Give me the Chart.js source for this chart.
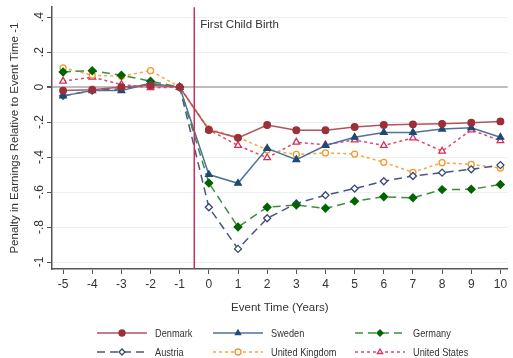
<!DOCTYPE html>
<html>
<head>
<meta charset="utf-8">
<script src="https://cdn.jsdelivr.net/npm/chart.js@4"></script>
<style>
  html, body { margin: 0; padding: 0; background: #fff; }
  #wrap { width: 513px; height: 358px; }
</style>
</head>
<body>
<div id="wrap"><canvas id="penaltyChart"></canvas></div>
<script>
// event time (years relative to first child birth)
const eventTime = [-5, -4, -3, -2, -1, 0, 1, 2, 3, 4, 5, 6, 7, 8, 9, 10];

// earnings penalty relative to event time -1, per country
const denmark = [-0.02, -0.015, 0.0, 0.01, 0, -0.245, -0.29, -0.217, -0.247, -0.247, -0.228, -0.217, -0.213, -0.21, -0.204, -0.196];
const sweden  = [-0.05, -0.02, -0.02, 0.02, 0, -0.50, -0.55, -0.35, -0.415, -0.334, -0.287, -0.259, -0.259, -0.24, -0.232, -0.287];
const germany = [0.087, 0.094, 0.068, 0.034, 0, -0.548, -0.80, -0.687, -0.674, -0.693, -0.652, -0.627, -0.633, -0.586, -0.584, -0.557];
const austria = [-0.05, -0.02, -0.01, 0.02, 0, -0.687, -0.925, -0.75, -0.665, -0.618, -0.58, -0.538, -0.508, -0.489, -0.47, -0.446];
const unitedKingdom = [0.11, 0.068, 0.062, 0.094, 0, -0.24, -0.287, -0.359, -0.385, -0.376, -0.383, -0.43, -0.487, -0.432, -0.442, -0.463];
const unitedStates  = [0.034, 0.057, 0.015, -0.004, 0, -0.244, -0.334, -0.404, -0.315, -0.33, -0.302, -0.334, -0.291, -0.366, -0.245, -0.306];

// axis ticks
const xTicks = [-5, -4, -3, -2, -1, 0, 1, 2, 3, 4, 5, 6, 7, 8, 9, 10];
const yTicks = [-1, -0.8, -0.6, -0.4, -0.2, 0, 0.2, 0.4];

const birthTime = -0.5;
const birthLabel = 'First Child Birth';

const FONT = '"Liberation Sans", Arial, sans-serif';

function series(label, values, color, markerColor, style, dash, fillMarker, radius) {
    return {
        label: label,
        data: values.map((v, i) => ({ x: eventTime[i], y: v })),
        borderColor: color,
        backgroundColor: fillMarker ? markerColor : '#ffffff',
        pointBorderColor: markerColor,
        pointBackgroundColor: fillMarker ? markerColor : '#ffffff',
        pointStyle: style,
        pointRadius: radius,
        pointBorderWidth: 1.3,
        borderWidth: 1.5,
        borderDash: dash,
        fill: false,
        tension: 0
    };
}

const datasets = [
    series('Denmark', denmark, '#b0555c', '#9c2f38', 'circle', [], true, 3.3),
    series('Sweden', sweden, '#4f7398', '#1c4a78', 'triangle', [], true, 3.8),
    series('Germany', germany, '#3e8e3e', '#006400', 'rectRot', [8, 5], true, 3.8),
    series('Austria', austria, '#4a5580', '#3a4775', 'rectRot', [8, 5], false, 3.5),
    series('United Kingdom', unitedKingdom, '#f4a640', '#f0982a', 'circle', [3, 3], false, 3),
    series('United States', unitedStates, '#dc4a70', '#d32f5a', 'triangle', [3, 3], false, 3.8)
];

// vertical marker line at first child birth
const birthLinePlugin = {
    id: 'birthLine',
    afterDatasetsDraw(chart) {
        const { ctx, chartArea, scales } = chart;
        const x = scales.x.getPixelForValue(birthTime);
        ctx.save();
        ctx.strokeStyle = '#c8325a';
        ctx.lineWidth = 1.5;
        ctx.beginPath();
        ctx.moveTo(x, chartArea.top);
        ctx.lineTo(x, chartArea.bottom);
        ctx.stroke();
        ctx.fillStyle = '#333';
        ctx.font = '11.5px ' + FONT;
        ctx.textBaseline = 'middle';
        ctx.fillText(birthLabel, x + 6, 25);
        ctx.restore();
    }
};

// three-column legend below the axis title
const gridLegendPlugin = {
    id: 'gridLegend',
    afterDraw(chart) {
        const ctx = chart.ctx;
        const cols = [97, 213, 355];
        const rows = [333, 352];
        ctx.save();
        chart.data.datasets.forEach((ds, i) => {
            const x0 = cols[i % 3];
            const y = rows[Math.floor(i / 3)];
            ctx.strokeStyle = ds.borderColor;
            ctx.lineWidth = ds.borderWidth;
            ctx.setLineDash(ds.borderDash);
            ctx.beginPath();
            ctx.moveTo(x0, y);
            ctx.lineTo(x0 + 50, y);
            ctx.stroke();
            ctx.setLineDash([]);
            ctx.lineWidth = 1.3;
            ctx.strokeStyle = ds.pointBorderColor;
            ctx.fillStyle = ds.pointBackgroundColor;
            Chart.helpers.drawPoint(ctx, { pointStyle: ds.pointStyle, radius: 3, borderWidth: 1.3 }, x0 + 25, y);
            // condensed label text
            ctx.save();
            ctx.translate(x0 + 58, y + 1);
            ctx.scale(0.8, 1);
            ctx.fillStyle = '#333';
            ctx.font = '11.5px ' + FONT;
            ctx.textBaseline = 'middle';
            ctx.fillText(ds.label, 0, 0);
            ctx.restore();
        });
        ctx.restore();
    }
};

function fmtY(v) {
    if (Math.abs(v) < 1e-9) return '0';
    if (Math.abs(Math.abs(v) - 1) < 1e-9) return v < 0 ? '-1' : '1';
    return (v < 0 ? '-' : '') + Math.abs(v).toFixed(1).replace('0.', '.');
}

const ctx = document.getElementById('penaltyChart').getContext('2d');
new Chart(ctx, {
    type: 'line',
    data: { datasets: datasets },
    options: {
        responsive: true,
        maintainAspectRatio: false,
        animation: false,
        layout: { padding: { top: 5, right: 3, bottom: 43, left: 0 } },
        plugins: {
            legend: { display: false },
            tooltip: { enabled: false }
        },
        scales: {
            x: {
                type: 'linear',
                min: -5.38,
                max: 10.25,
                afterBuildTicks: (axis) => { axis.ticks = xTicks.map(v => ({ value: v })); },
                afterFit: (axis) => { axis.height = 46; },
                grid: { drawOnChartArea: false, drawTicks: true, tickLength: 5, color: '#555' },
                border: { color: '#555', width: 1.5 },
                ticks: { color: '#333', font: { family: FONT, size: 12 }, padding: 3, maxRotation: 0, autoSkip: false },
                title: { display: true, text: 'Event Time (Years)', color: '#333', font: { family: FONT, size: 11.5 }, padding: { top: 2, bottom: 0 } }
            },
            y: {
                min: -1.04,
                max: 0.457,
                afterBuildTicks: (axis) => { axis.ticks = yTicks.map(v => ({ value: v })); },
                afterFit: (axis) => { axis.width = 52; },
                grid: {
                    drawTicks: true,
                    tickLength: 5,
                    color: (c) => (c.tick && Math.abs(c.tick.value) < 1e-9) ? '#bdbdbd' : '#e9f1f1',
                    lineWidth: (c) => (c.tick && Math.abs(c.tick.value) < 1e-9) ? 2 : 1,
                    tickColor: '#555'
                },
                border: { color: '#555', width: 1.5 },
                ticks: {
                    color: '#333',
                    font: { family: FONT, size: 12 },
                    padding: 0,
                    crossAlign: 'center',
                    minRotation: 90,
                    maxRotation: 90,
                    callback: (v) => fmtY(v)
                },
                title: { display: true, text: 'Penalty in Earnings Relative to Event Time -1', color: '#333', font: { family: FONT, size: 11.5 }, padding: { top: 8, bottom: 0 } }
            }
        }
    },
    plugins: [birthLinePlugin, gridLegendPlugin]
});
</script>
</body>
</html>
